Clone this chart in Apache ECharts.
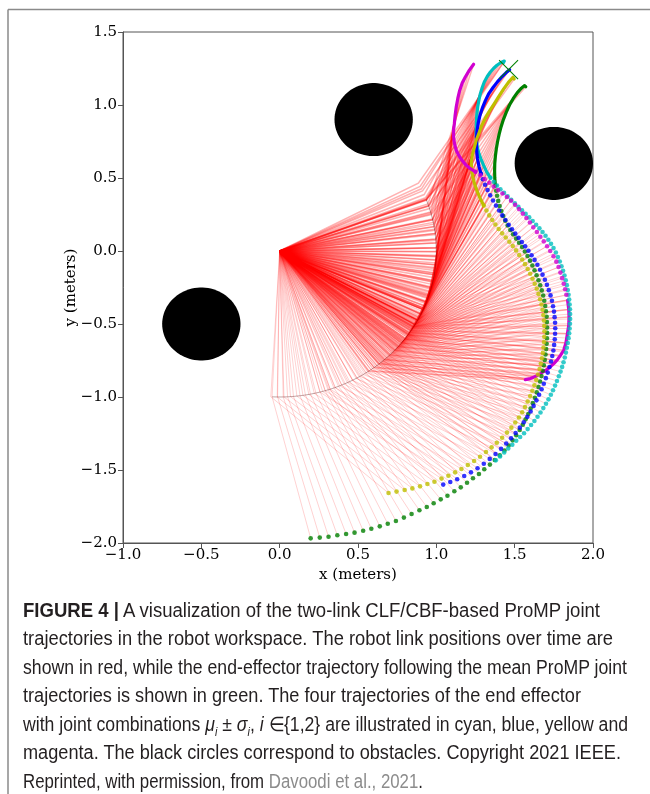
<!DOCTYPE html>
<html>
<head>
<meta charset="utf-8">
<script src="https://cdn.jsdelivr.net/npm/echarts@6/dist/echarts.min.js"></script>
<style>
  html, body { margin: 0; padding: 0; background: #fff; }
  #wrap { position: relative; width: 650px; height: 794px; overflow: hidden; background: #fff; }
  #chart { position: absolute; left: 0; top: 0; width: 650px; height: 794px; }
  #caption { position: absolute; left: 23px; top: 0; width: 640px;
    font-family: "Liberation Sans Narrow", "Liberation Sans", Arial, sans-serif;
    font-size: 19.5px; color: #231f20; }
  #caption .ln { position: absolute; left: 0; white-space: nowrap; line-height: 19.5px; transform-origin: 0 0; }
  #caption .ref { color: #8c8c8c; }
  #caption sub { font-size: 12px; line-height: 0; }
</style>
</head>
<body>
<div id="wrap">
  <div id="chart"></div>
  <div id="caption">
    <div class="ln"><b>FIGURE 4 |</b> A visualization of the two-link CLF/CBF-based ProMP joint</div>
    <div class="ln">trajectories in the robot workspace. The robot link positions over time are</div>
    <div class="ln">shown in red, while the end-effector trajectory following the mean ProMP joint</div>
    <div class="ln">trajectories is shown in green. The four trajectories of the end effector</div>
    <div class="ln">with joint combinations <i>μ<sub>i</sub></i> ± <i>σ<sub>i</sub></i>, <i>i</i> ∈{1,2} are illustrated in cyan, blue, yellow and</div>
    <div class="ln">magenta. The black circles correspond to obstacles. Copyright 2021 IEEE.</div>
    <div class="ln">Reprinted, with permission, from <span class="ref">Davoodi et al., 2021</span>.</div>
  </div>
</div>
<script>
// axis ticks (meters)
const xTicks = [-1.0, -0.5, 0.0, 0.5, 1.0, 1.5, 2.0];
const yTicks = [-2.0, -1.5, -1.0, -0.5, 0.0, 0.5, 1.0, 1.5];

// two-link arm, base at origin
const L1 = 1.0, L2 = 1.0;

// obstacles
const obsX = [0.6, 1.75, -0.5];
const obsY = [0.9, 0.6, -0.5];
const obsR = [0.25, 0.25, 0.25];

// goal
const goal = [1.461, 1.242];

// mean ProMP end-effector trajectory (green)
const greenDots = [
  [0.198,-1.968],[0.256,-1.963],[0.312,-1.957],[0.368,-1.947],[0.424,-1.938],[0.478,-1.929],[0.533,-1.916],
  [0.585,-1.902],[0.639,-1.886],[0.690,-1.868],[0.742,-1.849],[0.793,-1.826],[0.842,-1.801],[0.892,-1.776],
  [0.939,-1.753],[0.983,-1.728],[1.028,-1.701],[1.071,-1.676],[1.115,-1.646],[1.156,-1.619],[1.196,-1.587],
  [1.234,-1.557],[1.272,-1.527],[1.306,-1.495],[1.342,-1.463],[1.373,-1.431],[1.405,-1.400],
  [1.435,-1.366],[1.462,-1.332],[1.487,-1.297],[1.510,-1.262],[1.532,-1.226],[1.552,-1.190],[1.570,-1.153],
  [1.587,-1.116],[1.602,-1.079],[1.616,-1.042],[1.629,-1.005],[1.641,-0.968],[1.652,-0.931],[1.662,-0.894],
  [1.671,-0.857],[1.679,-0.820],[1.686,-0.783],[1.692,-0.746],[1.697,-0.709],[1.701,-0.672],[1.704,-0.635],
  [1.706,-0.598],[1.707,-0.561],[1.707,-0.524],[1.706,-0.487],[1.704,-0.450],[1.700,-0.413],[1.695,-0.377],
  [1.689,-0.341],[1.682,-0.305],[1.673,-0.270],[1.663,-0.235],[1.652,-0.200],[1.640,-0.166],[1.627,-0.132],
  [1.613,-0.099],[1.598,-0.066],[1.582,-0.034],[1.565,-0.003],[1.547,0.027],[1.528,0.056],[1.509,0.085],
  [1.490,0.114],[1.472,0.144],[1.455,0.175],[1.440,0.207],[1.427,0.240],[1.415,0.274],[1.404,0.308],
  [1.395,0.343],[1.388,0.378],[1.382,0.413],[1.377,0.448]
];
const greenLine = [
  [1.377,0.448],[1.373,0.500],[1.372,0.550],[1.373,0.600],[1.377,0.650],[1.383,0.700],[1.391,0.750],
  [1.401,0.800],[1.413,0.850],[1.428,0.900],[1.446,0.950],[1.467,1.000],[1.491,1.045],[1.517,1.085],
  [1.543,1.115],[1.562,1.133],[1.571,1.125]
];

// mu/sigma combinations
const yellowDots = [
  [0.695,-1.658],[0.746,-1.648],[0.798,-1.637],[0.847,-1.626],[0.896,-1.612],[0.943,-1.596],[0.988,-1.580],
  [1.033,-1.559],[1.077,-1.539],[1.120,-1.516],[1.160,-1.493],[1.201,-1.466],[1.241,-1.438],[1.279,-1.409],
  [1.317,-1.377],[1.353,-1.345],[1.386,-1.313],[1.420,-1.279],[1.451,-1.244],
  [1.479,-1.210],[1.504,-1.175],[1.527,-1.140],[1.548,-1.104],[1.566,-1.068],[1.583,-1.031],[1.599,-0.994],
  [1.613,-0.957],[1.626,-0.920],[1.638,-0.883],[1.649,-0.846],[1.659,-0.809],[1.667,-0.772],[1.674,-0.735],
  [1.680,-0.698],[1.684,-0.661],[1.687,-0.624],[1.689,-0.587],[1.690,-0.550],[1.689,-0.513],[1.687,-0.476],
  [1.683,-0.439],[1.678,-0.402],[1.671,-0.366],[1.662,-0.330],[1.652,-0.294],[1.641,-0.259],[1.628,-0.224],
  [1.614,-0.190],[1.599,-0.156],[1.583,-0.123],[1.566,-0.090],[1.548,-0.058],[1.529,-0.027],[1.509,0.004],
  [1.488,0.034],[1.466,0.063],[1.443,0.092],[1.420,0.121],[1.398,0.151],[1.377,0.181],[1.357,0.212],
  [1.338,0.244],[1.320,0.277],[1.303,0.311]
];
const yellowLine = [
  [1.303,0.311],[1.280,0.360],[1.260,0.410],[1.244,0.460],[1.232,0.510],[1.225,0.560],[1.223,0.610],
  [1.230,0.660],[1.243,0.710],[1.255,0.760],[1.273,0.810],[1.290,0.860],[1.313,0.910],[1.340,0.960],
  [1.370,1.010],[1.400,1.060],[1.430,1.110],[1.460,1.155],[1.489,1.190],[1.497,1.178]
];

const blueDots = [
  [1.044,-1.600],[1.089,-1.582],[1.133,-1.563],[1.178,-1.541],[1.221,-1.516],[1.263,-1.488],[1.303,-1.457],
  [1.341,-1.424],[1.378,-1.390],[1.413,-1.355],[1.446,-1.319],[1.477,-1.283],[1.506,-1.247],[1.533,-1.210],
  [1.558,-1.173],[1.581,-1.136],[1.602,-1.099],[1.621,-1.061],[1.639,-1.023],[1.656,-0.985],[1.672,-0.947],
  [1.686,-0.909],[1.699,-0.871],[1.711,-0.833],[1.722,-0.795],[1.732,-0.757],[1.740,-0.719],[1.747,-0.681],
  [1.752,-0.643],[1.756,-0.605],[1.758,-0.567],[1.759,-0.529],[1.758,-0.491],[1.755,-0.453],[1.751,-0.415],
  [1.745,-0.378],[1.738,-0.341],[1.729,-0.304],[1.718,-0.268],[1.706,-0.232],[1.693,-0.197],[1.678,-0.162],
  [1.662,-0.128],[1.645,-0.094],[1.627,-0.061],[1.608,-0.029],[1.588,0.002],[1.567,0.032],[1.546,0.061],
  [1.525,0.090],[1.504,0.119],[1.483,0.149],[1.462,0.180],[1.441,0.212],[1.421,0.244],[1.401,0.277],
  [1.381,0.311],[1.362,0.346],[1.344,0.381],[1.327,0.417],[1.311,0.454],[1.297,0.491],[1.285,0.529]
];
const blueLine = [
  [1.285,0.529],[1.272,0.580],[1.263,0.630],[1.258,0.680],[1.256,0.730],[1.257,0.780],[1.261,0.830],
  [1.268,0.880],[1.279,0.930],[1.294,0.980],[1.313,1.030],[1.336,1.080],[1.362,1.120],[1.391,1.160],
  [1.420,1.195],[1.446,1.222],[1.468,1.242]
];

const cyanDots = [
  [1.380,-1.434],[1.407,-1.407],[1.433,-1.380],[1.459,-1.353],[1.485,-1.327],[1.510,-1.300],[1.535,-1.274],
  [1.560,-1.248],[1.583,-1.220],[1.605,-1.192],[1.626,-1.164],[1.646,-1.135],[1.665,-1.106],[1.683,-1.076],
  [1.700,-1.046],[1.716,-1.016],[1.731,-0.985],[1.745,-0.954],[1.758,-0.922],[1.770,-0.890],[1.782,-0.858],
  [1.793,-0.826],[1.803,-0.794],[1.812,-0.762],[1.820,-0.729],[1.827,-0.696],[1.833,-0.663],[1.839,-0.630],
  [1.844,-0.597],[1.848,-0.564],[1.851,-0.531],[1.853,-0.498],[1.854,-0.465],[1.854,-0.432],[1.853,-0.399],
  [1.851,-0.366],[1.848,-0.333],[1.844,-0.300],[1.839,-0.267],[1.833,-0.234],[1.826,-0.201],[1.818,-0.168],
  [1.809,-0.136],[1.799,-0.104],[1.788,-0.072],[1.776,-0.041],[1.763,-0.010],[1.748,0.020],[1.732,0.049],
  [1.715,0.077],[1.697,0.104],[1.678,0.130],[1.658,0.155],[1.637,0.180],[1.615,0.205],[1.593,0.230],
  [1.570,0.254],[1.547,0.278],[1.524,0.302],[1.501,0.326],[1.478,0.350],[1.455,0.374],[1.432,0.398],
  [1.409,0.423],[1.387,0.448],[1.366,0.474],[1.346,0.501]
];
const cyanLine = [
  [1.346,0.501],[1.322,0.540],[1.302,0.587],[1.285,0.630],[1.272,0.667],[1.262,0.710],[1.256,0.758],
  [1.254,0.810],[1.255,0.872],[1.258,0.930],[1.264,0.986],[1.272,1.035],[1.281,1.078],[1.293,1.120],
  [1.306,1.158],[1.325,1.195],[1.345,1.226],[1.366,1.252],[1.387,1.272],[1.410,1.289],[1.434,1.301],
  [1.428,1.290]
];

const magentaHead = [
  [1.568,-0.881],[1.600,-0.874],[1.632,-0.860],[1.664,-0.840],[1.697,-0.818],[1.727,-0.794],[1.750,-0.771],
  [1.770,-0.748],[1.792,-0.715],[1.813,-0.680],[1.827,-0.630],[1.837,-0.566],[1.845,-0.510],[1.847,-0.452],
  [1.845,-0.400],[1.838,-0.338]
];
const magentaDots = [
  [1.830,-0.300],[1.822,-0.262],[1.813,-0.224],[1.803,-0.186],[1.792,-0.148],[1.780,-0.110],[1.766,-0.073],
  [1.748,-0.036],[1.727,0.000],[1.707,0.033],[1.686,0.066],[1.664,0.098],[1.642,0.130],[1.619,0.162],
  [1.597,0.195],[1.575,0.226],[1.552,0.256],[1.528,0.287],[1.503,0.316],[1.477,0.344],[1.450,0.370],
  [1.422,0.394],[1.394,0.417],[1.366,0.441],[1.338,0.467],[1.309,0.492],[1.281,0.518],[1.250,0.542]
];
const magentaTail = [
  [1.250,0.542],[1.217,0.564],[1.188,0.590],[1.164,0.621],[1.143,0.655],[1.127,0.690],[1.116,0.735],
  [1.110,0.781],[1.110,0.830],[1.115,0.872],[1.120,0.930],[1.127,0.986],[1.137,1.045],[1.149,1.100],
  [1.165,1.150],[1.185,1.192],[1.210,1.237],[1.238,1.279]
];

const GREEN = '#008000', CYAN = '#00bfbf', BLUE = '#0000ff', YELLOW = '#bfbf00', MAGENTA = '#d000d0';

// elbow position from end-effector point (elbow-right solution)
function elbowOf(p) {
  var d = Math.hypot(p[0], p[1]);
  var th = Math.atan2(p[1], p[0]);
  var c = (L1 * L1 + d * d - L2 * L2) / (2 * L1 * d);
  var a = Math.acos(Math.max(-1, Math.min(1, c)));
  return [L1 * Math.cos(th - a), L1 * Math.sin(th - a)];
}

// sparse (fast) samples and dense (slow) samples, kept apart so the dense ones can weigh more
var fastPts = [].concat(greenDots, yellowDots, blueDots, cyanDots, magentaDots);
var slowPts = [].concat(greenLine, yellowLine, blueLine, cyanLine, magentaHead, magentaTail);

function links(pts) {
  return pts.map(function (p) { return { coords: [[0, 0], elbowOf(p), p] }; });
}
var greenElbows = greenDots.concat(greenLine).map(elbowOf);

function fmt(v) {
  return (v < 0 ? '\u2212' : '') + Math.abs(v).toFixed(1);
}

function dots(data, color) {
  return {
    type: 'scatter', data: data, symbol: 'circle', symbolSize: 4.6,
    itemStyle: { color: color }, silent: true, z: 5
  };
}
function path(data, color) {
  return {
    type: 'line', data: data, showSymbol: false, smooth: false,
    lineStyle: { color: color, width: 3.2, cap: 'round', join: 'round' }, silent: true, z: 5
  };
}

var chart = echarts.init(document.getElementById('chart'), null, { renderer: 'canvas' });
var option = {
  animation: false,
  backgroundColor: '#fff',
  grid: {
    left: 123, top: 32, width: 470, height: 511,
    show: true, borderColor: '#555', borderWidth: 1
  },
  xAxis: {
    type: 'value',
    min: xTicks[0], max: xTicks[xTicks.length - 1], interval: xTicks[1] - xTicks[0],
    name: 'x (meters)', nameLocation: 'middle', nameGap: 22,
    nameTextStyle: { fontFamily: 'DejaVu Serif', fontSize: 15, color: '#000' },
    axisLine: { show: true, onZero: false, lineStyle: { color: '#555', width: 1 } },
    axisTick: { show: true, inside: false, length: 5, lineStyle: { color: '#555' } },
    axisLabel: { formatter: fmt, margin: 5, fontFamily: 'DejaVu Serif', fontSize: 15, color: '#000',
      showMinLabel: true, showMaxLabel: true },
    splitLine: { show: false }
  },
  yAxis: {
    type: 'value',
    min: yTicks[0], max: yTicks[yTicks.length - 1], interval: yTicks[1] - yTicks[0],
    name: 'y (meters)', nameLocation: 'middle', nameGap: 44, nameMoveOverlap: false,
    nameTextStyle: { fontFamily: 'DejaVu Serif', fontSize: 15, color: '#000' },
    axisLine: { show: true, onZero: false, lineStyle: { color: '#555', width: 1 } },
    axisTick: { show: true, inside: false, length: 5, lineStyle: { color: '#555' } },
    axisLabel: { formatter: fmt, margin: 6, fontFamily: 'DejaVu Serif', fontSize: 15, color: '#000',
      showMinLabel: true, showMaxLabel: true },
    splitLine: { show: false }
  },
  graphic: [
    { type: 'line', shape: { x1: 8, y1: 9.5, x2: 650, y2: 9.5 }, style: { stroke: '#8a8a8a', lineWidth: 1.5 } },
    { type: 'line', shape: { x1: 8, y1: 9.5, x2: 8, y2: 794 }, style: { stroke: '#8a8a8a', lineWidth: 1.5 } }
  ],
  series: [
    {
      type: 'lines', coordinateSystem: 'cartesian2d', polyline: true,
      data: links(fastPts), silent: true, z: 1,
      lineStyle: { color: '#ff0000', opacity: 0.18, width: 1 }
    },
    {
      type: 'lines', coordinateSystem: 'cartesian2d', polyline: true,
      data: links(slowPts), silent: true, z: 1,
      lineStyle: { color: '#ff0000', opacity: 0.3, width: 1.5 }
    },
    {
      type: 'line', data: greenElbows, showSymbol: false, silent: true, z: 2,
      lineStyle: { color: '#500000', opacity: 0.35, width: 1 }
    },
    {
      type: 'custom', silent: true, z: 3, clip: true,
      data: obsX.map(function (x, i) { return [x, obsY[i], obsR[i]]; }),
      encode: { x: 0, y: 1 },
      renderItem: function (params, api) {
        var cx = api.value(0), cy = api.value(1), r = api.value(2);
        var pts = [];
        for (var k = 0; k < 90; k++) {
          var t = k / 90 * Math.PI * 2;
          pts.push(api.coord([cx + r * Math.cos(t), cy + r * Math.sin(t)]));
        }
        return { type: 'polygon', shape: { points: pts }, style: { fill: '#000' } };
      }
    },
    dots(greenDots, GREEN), path(greenLine, GREEN),
    dots(cyanDots, CYAN), path(cyanLine, CYAN),
    dots(blueDots, BLUE), path(blueLine, BLUE),
    dots(yellowDots, YELLOW), path(yellowLine, YELLOW),
    path(magentaHead, MAGENTA), dots(magentaDots, MAGENTA), path(magentaTail, MAGENTA),
    {
      type: 'custom', silent: true, z: 6,
      data: [goal],
      renderItem: function (params, api) {
        var c = api.coord([api.value(0), api.value(1)]);
        var h = 9.5;
        return {
          type: 'group',
          children: [
            { type: 'line', shape: { x1: c[0] - h, y1: c[1] - h, x2: c[0] + h, y2: c[1] + h }, style: { stroke: GREEN, lineWidth: 1.1 } },
            { type: 'line', shape: { x1: c[0] - h, y1: c[1] + h, x2: c[0] + h, y2: c[1] - h }, style: { stroke: GREEN, lineWidth: 1.1 } }
          ]
        };
      }
    }
  ]
};
chart.setOption(option);

// caption: place lines and fit each to its printed right edge
(function () {
  var lines = document.querySelectorAll('#caption .ln');
  var rightEdges = [600, 613, 627, 581, 628, 621, 423];
  var left = 23;
  var firstBaseline = 617, step = 28.5, ascentOffset = 16.5;
  lines.forEach(function (el, i) {
    el.style.top = (firstBaseline + step * i - ascentOffset) + 'px';
    var w = el.getBoundingClientRect().width;
    el.style.transform = 'scaleX(' + ((rightEdges[i] - left) / w) + ')';
  });
})();
</script>
</body>
</html>
